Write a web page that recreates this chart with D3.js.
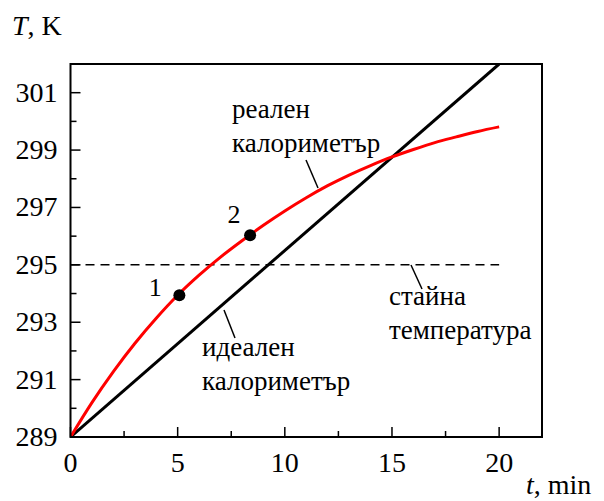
<!DOCTYPE html>
<html>
<head>
<meta charset="utf-8">
<script src="https://cdn.jsdelivr.net/npm/d3@7"></script>
<style>
  body { margin: 0; background: #fff; }
</style>
</head>
<body>
<script>
// ideal calorimeter (straight line) and real one (curve), T in K vs t in min
const idealT = [0, 20];
const idealV = [289, 302];
const realT = [0, 1, 2, 3, 4, 5, 6, 7, 8, 9, 10, 11, 12, 13, 14, 15, 16, 17, 18, 19, 20];
const realV = [289.0, 290.2, 291.28, 292.26, 293.14, 293.94, 294.64, 295.27, 295.84, 296.38, 296.88,
               297.34, 297.76, 298.13, 298.46, 298.76, 299.02, 299.26, 299.46, 299.65, 299.81];
const roomT = [0, 20];
const roomV = [295, 295];
const markT = [5.08, 8.38];
const markV = [293.94, 296.03];
const markLabels = ["1", "2"];
const xTicks = [0, 5, 10, 15, 20];
const yTicks = [289, 291, 293, 295, 297, 299, 301];

const W = 604, H = 501;
const margin = { top: 64, right: 62, bottom: 64, left: 70.5 };
const w = W - margin.left - margin.right,
      h = H - margin.top - margin.bottom;
const FONT = "Liberation Serif";

const x = d3.scaleLinear().domain([0, 22]).range([0, w]);
const y = d3.scaleLinear().domain([289, 302]).range([h, 0]);

const svg = d3.select("body").append("svg")
    .attr("width", W)
    .attr("height", H);

const g = svg.append("g")
    .attr("transform", "translate(" + margin.left + "," + margin.top + ")");

g.append("defs").append("clipPath").attr("id", "clip")
  .append("rect").attr("width", w).attr("height", h);

// ticks pointing inward
const xMinor = d3.range(2.5, 22, 5);
const yMinor = d3.range(290, 302, 1).filter(v => yTicks.indexOf(v) < 0);

g.selectAll(".xt").data(xTicks).enter().append("line")
    .attr("x1", d => x(d)).attr("x2", d => x(d))
    .attr("y1", h).attr("y2", h - 10)
    .attr("stroke", "#000").attr("stroke-width", 1.5);
g.selectAll(".xm").data(xMinor).enter().append("line")
    .attr("x1", d => x(d)).attr("x2", d => x(d))
    .attr("y1", h).attr("y2", h - 6)
    .attr("stroke", "#000").attr("stroke-width", 1.5);
g.selectAll(".yt").data(yTicks).enter().append("line")
    .attr("x1", 0).attr("x2", 10)
    .attr("y1", d => y(d)).attr("y2", d => y(d))
    .attr("stroke", "#000").attr("stroke-width", 1.5);
g.selectAll(".ym").data(yMinor).enter().append("line")
    .attr("x1", 0).attr("x2", 6)
    .attr("y1", d => y(d)).attr("y2", d => y(d))
    .attr("stroke", "#000").attr("stroke-width", 1.5);

g.selectAll(".xl").data(xTicks).enter().append("text")
    .attr("x", d => x(d)).attr("y", h + 35)
    .attr("text-anchor", "middle")
    .attr("font-family", FONT)
    .attr("font-size", 28)
    .text(d => d);
g.selectAll(".yl").data(yTicks).enter().append("text")
    .attr("x", -13).attr("y", d => y(d) + 9)
    .attr("text-anchor", "end")
    .attr("font-family", FONT)
    .attr("font-size", 28)
    .text(d => d);

const line = d3.line().x(d => x(d[0])).y(d => y(d[1]));

const plot = g.append("g").attr("clip-path", "url(#clip)");

plot.append("path")
    .datum(roomT.map((t, i) => [t, roomV[i]]))
    .attr("d", line)
    .attr("fill", "none").attr("stroke", "#000").attr("stroke-width", 1.5)
    .attr("stroke-dasharray", "9,6");

plot.append("path")
    .datum(idealT.map((t, i) => [t, idealV[i]]))
    .attr("d", line)
    .attr("fill", "none").attr("stroke", "#000").attr("stroke-width", 3);

plot.append("path")
    .datum(realT.map((t, i) => [t, realV[i]]))
    .attr("d", line.curve(d3.curveMonotoneX))
    .attr("fill", "none").attr("stroke", "#ff0000").attr("stroke-width", 3);

plot.selectAll(".pt").data(markT).enter().append("circle")
    .attr("cx", d => x(d))
    .attr("cy", (d, i) => y(markV[i]))
    .attr("r", 6).attr("fill", "#000");

// frame
g.append("rect").attr("width", w).attr("height", h)
    .attr("fill", "none").attr("stroke", "#000").attr("stroke-width", 2);

// point labels
const markDx = [-24, -16], markDy = [1, -12];
g.selectAll(".ml").data(markLabels).enter().append("text")
    .attr("x", (d, i) => x(markT[i]) + markDx[i])
    .attr("y", (d, i) => y(markV[i]) + markDy[i])
    .attr("text-anchor", "middle")
    .attr("font-family", FONT)
    .attr("font-size", 26)
    .text(d => d);

// annotations with leader lines
function note(lines, tx, ty, lead) {
  const t = svg.append("text").attr("font-family", FONT).attr("font-size", 27);
  lines.forEach((s, i) => {
    t.append("tspan").attr("x", tx).attr("y", ty + i * 34).text(s);
  });
  svg.append("line")
      .attr("x1", lead[0]).attr("y1", lead[1])
      .attr("x2", lead[2]).attr("y2", lead[3])
      .attr("stroke", "#000").attr("stroke-width", 1.5);
}
note(["реален", "калориметър"], 232, 118, [306, 160, 318, 188]);
note(["идеален", "калориметър"], 202, 356, [224, 310, 235, 338]);
note(["стайна", "температура"], 389, 305, [411, 265, 422, 289]);

// axis titles
const yt = svg.append("text").attr("x", 12).attr("y", 35)
    .attr("font-family", FONT).attr("font-size", 28);
yt.append("tspan").attr("font-style", "italic").text("T");
yt.append("tspan").text(", K");
const xt = svg.append("text").attr("x", 526).attr("y", 494)
    .attr("font-family", FONT).attr("font-size", 28);
xt.append("tspan").attr("font-style", "italic").text("t");
xt.append("tspan").text(", min");
</script>
</body>
</html>
